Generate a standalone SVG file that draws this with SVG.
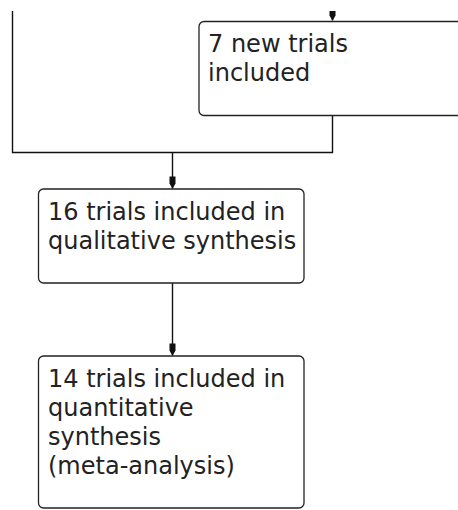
<svg xmlns="http://www.w3.org/2000/svg" width="458" height="510" viewBox="0 0 458 510">
<style>
.box{fill:#fff;stroke:#222;stroke-width:1.3}
.lbl{font-family:"DejaVu Sans",Verdana,sans-serif;font-size:24px;fill:#222}
.ln{fill:none;stroke:#111;stroke-width:1.4}
</style>
<defs>
<marker id="ah" viewBox="-13 -5 14 10" refX="0" refY="0" markerWidth="14" markerHeight="10" markerUnits="userSpaceOnUse" orient="auto">
<path d="M-12,-3 L-5,-3 L-1,-0.8 L0,0 L-1,0.8 L-5,3 L-12,3 Z" fill="#111"/>
</marker>
<clipPath id="cp"><rect x="0" y="11" width="458" height="499"/></clipPath>
</defs>
<g id="connectors" clip-path="url(#cp)">
<path class="ln" d="M332.5,0 V20.5" marker-end="url(#ah)"/>
<path class="ln" d="M12.5,11 V152.5 H332.5 V115.5"/>
<path class="ln" d="M172.5,152.5 V188.5" marker-end="url(#ah)"/>
<path class="ln" d="M172.5,283 V355.5" marker-end="url(#ah)"/>
</g>
<g id="node1">
<rect class="box" x="199" y="21.5" width="280" height="94" rx="5"/>
<text class="lbl" x="208" y="52">7 new trials</text>
<text class="lbl" x="208" y="81">included</text>
</g>
<g id="node2">
<rect class="box" x="38.5" y="189" width="265.5" height="94" rx="5"/>
<text class="lbl" x="48" y="220">16 trials included in</text>
<text class="lbl" x="48" y="249">qualitative synthesis</text>
</g>
<g id="node3">
<rect class="box" x="38.5" y="356" width="265.5" height="152" rx="5"/>
<text class="lbl" x="48" y="387">14 trials included in</text>
<text class="lbl" x="48" y="416">quantitative</text>
<text class="lbl" x="48" y="445">synthesis</text>
<text class="lbl" x="48" y="474">(meta-analysis)</text>
</g>
</svg>
